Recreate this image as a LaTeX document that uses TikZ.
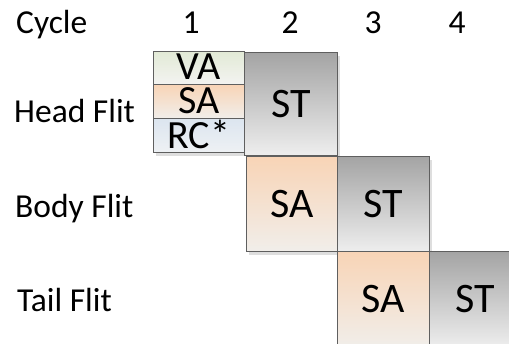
\documentclass[tikz,border=0pt]{standalone}
\usepackage{fontspec}
\setmainfont{Carlito}
\usetikzlibrary{shadows}
\definecolor{bordc}{HTML}{5F5F5F}
\definecolor{vatop}{HTML}{E2EAD6}
\definecolor{vabot}{HTML}{F3F3F1}
\definecolor{satop}{HTML}{F8D4B6}
\definecolor{sabot}{HTML}{F1EEEA}
\definecolor{rctop}{HTML}{DCE5EF}
\definecolor{rcbot}{HTML}{EEF1F4}
\definecolor{sttop}{HTML}{A4A4A4}
\definecolor{stbot}{HTML}{EEEEEE}
\tikzset{
  cell/.style={draw=bordc, line width=0.8pt, anchor=north west, inner sep=0pt,
    font=\fontsize{42}{48}\selectfont,
    drop shadow={shadow xshift=3pt, shadow yshift=-4pt, fill=black!13, opacity=1}},
  smallcell/.style={cell, font=\fontsize{40}{46}\selectfont},
  vacell/.style={smallcell, top color=vatop, bottom color=vabot},
  sacell/.style={cell, top color=satop, bottom color=sabot},
  sasmall/.style={smallcell, top color=satop, bottom color=sabot},
  rccell/.style={smallcell, top color=rctop, bottom color=rcbot},
  stcell/.style={cell, top color=sttop, bottom color=stbot},
  lbl/.style={font=\fontsize{33.5}{40}\selectfont, inner sep=0pt}
}
\begin{document}
\begin{tikzpicture}[x=1pt,y=-1pt]
\useasboundingbox (0,0) rectangle (509,343);
\clip (0,0) rectangle (509,343);
% header
\node[lbl, anchor=base west] (cyc) at (16,33) {Cycle};
\node[lbl, anchor=base] (c1) at (191,33) {1};
\node[lbl, anchor=base] (c2) at (290,33) {2};
\node[lbl, anchor=base] (c3) at (373,33) {3};
\node[lbl, anchor=base] (c4) at (457,33) {4};
% row labels
\node[lbl, anchor=base west] (hf) at (14,122) {Head Flit};
\node[lbl, anchor=base west] (bf) at (15,217) {Body Flit};
\node[lbl, anchor=base west] (tf) at (17,311) {Tail Flit};
% head flit
\node[vacell, minimum width=91pt, minimum height=33pt, text depth=1.5pt] (va) at (153,51) {VA};
\node[sasmall, minimum width=91pt, minimum height=34pt, text depth=1.5pt] (sa1) at (153,84) {SA};
\node[rccell, minimum width=91pt, minimum height=34pt, text depth=3pt] (rc) at (153,118) {RC*};
\node[stcell, minimum width=93pt, minimum height=103pt] (st1) at (244,52) {ST};
% body flit
\node[sacell, minimum width=91pt, minimum height=95pt] (sa2) at (246,156) {SA};
\node[stcell, minimum width=92pt, minimum height=95pt] (st2) at (337,156) {ST};
% tail flit
\node[sacell, minimum width=92pt, minimum height=96pt] (sa3) at (337,251) {SA};
\node[stcell, minimum width=92pt, minimum height=96pt] (st3) at (429,251) {ST};
\end{tikzpicture}
\end{document}
